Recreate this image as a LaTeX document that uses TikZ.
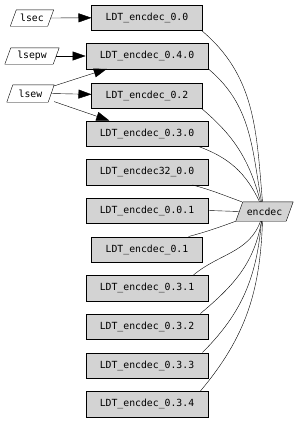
\documentclass[tikz,border=0pt]{standalone}
\usepackage{fontspec}
\usepackage{tikz}
\usetikzlibrary{arrows.meta,backgrounds}
\newfontfamily\gvfont{DejaVu Sans Mono}
\definecolor{boxc}{HTML}{D3D3D3}
\tikzset{
  ar/.style={-{Triangle[length=13pt,width=9pt]},black},
  ln/.style={black},
  box/.style={draw,rectangle,fill=boxc,minimum height=25.5pt,inner xsep=14pt,font=\gvfont\fontsize{9.8}{11}\selectfont},
  para/.style={rectangle,minimum height=16pt,inner sep=0pt,font=\gvfont\fontsize{9.8}{11}\selectfont}
}
\begin{document}
\begin{tikzpicture}[x=1pt,y=1pt]
\useasboundingbox (0,0) rectangle (301,-421);
\node[para,minimum width=43pt] (lsec) at (32,-18) {lsec};
\node[para,minimum width=54pt] (lsepw) at (32,-56) {lsepw};
\node[para,minimum width=47pt,minimum height=17pt] (lsew) at (30.5,-93.5) {lsew};
\node[para,minimum width=57pt,minimum height=19pt] (encdec) at (264.5,-211.5) {encdec};
% slanted outlines
\begin{scope}[on background layer]
\foreach \n/\s/\c in {lsec/6/white,lsepw/6/white,lsew/6/white,encdec/7/boxc}
  \draw[fill=\c] ([xshift=\s pt]\n.north west) -- (\n.north east)
    -- ([xshift=-\s pt]\n.south east) -- (\n.south west) -- cycle;
\end{scope}
\node[box] (e00) at (147,-17.5) {LDT\_encdec\_0.0};
\node[box] (e040) at (147,-56) {LDT\_encdec\_0.4.0};
\node[box] (e02) at (147,-95.5) {LDT\_encdec\_0.2};
\node[box] (e030) at (147,-133.5) {LDT\_encdec\_0.3.0};
\node[box] (e3200) at (147,-172) {LDT\_encdec32\_0.0};
\node[box] (e001) at (147,-210.5) {LDT\_encdec\_0.0.1};
\node[box] (e01) at (147,-249.5) {LDT\_encdec\_0.1};
\node[box] (e031) at (147,-288) {LDT\_encdec\_0.3.1};
\node[box] (e032) at (147,-326.5) {LDT\_encdec\_0.3.2};
\node[box] (e033) at (147,-365.5) {LDT\_encdec\_0.3.3};
\node[box] (e034) at (147,-404) {LDT\_encdec\_0.3.4};
% inputs
\draw[ar] ([xshift=-3pt]lsec.east) -- (e00);
\draw[ar] ([xshift=-3pt]lsepw.east) -- (e040);
\draw[ar] (lsew) -- (e040);
\draw[ar] ([xshift=-3pt]lsew.east) -- (e02);
\draw[ar] (lsew) -- (e030);
% to encdec
\draw[ln] ([xshift=-1pt]e00.south east) to[out=-40,in=95] ([xshift=-2pt]encdec.north);
\draw[ln] (e040.south east) to[out=-40,in=100] ([xshift=-3pt]encdec.north);
\draw[ln] ([xshift=-1pt]e02.south east) to[out=-40,in=105] ([xshift=-4pt]encdec.north);
\draw[ln] ([xshift=-10pt]e030.south east) to[out=-20,in=115] ([xshift=-5pt]encdec.north);
\draw[ln] ([xshift=-16pt]e3200.south east) to[out=-15,in=160] ([xshift=6pt]encdec.north west);
\draw[ln] (e001.east) -- ([xshift=3.5pt]encdec.west);
\draw[ln] ([xshift=-14pt]e01.north east) to[out=15,in=-160] (encdec.south west);
\draw[ln] ([xshift=-15pt]e031.north east) to[out=40,in=-110] ([xshift=-4pt]encdec.south);
\draw[ln] ([xshift=-8pt]e032.north east) to[out=40,in=-100] ([xshift=-3pt]encdec.south);
\draw[ln] ([xshift=-6pt]e033.north east) to[out=45,in=-95] ([xshift=-3pt]encdec.south);
\draw[ln] ([xshift=-8pt]e034.north east) to[out=50,in=-92] ([xshift=-2pt]encdec.south);
\end{tikzpicture}
\end{document}
